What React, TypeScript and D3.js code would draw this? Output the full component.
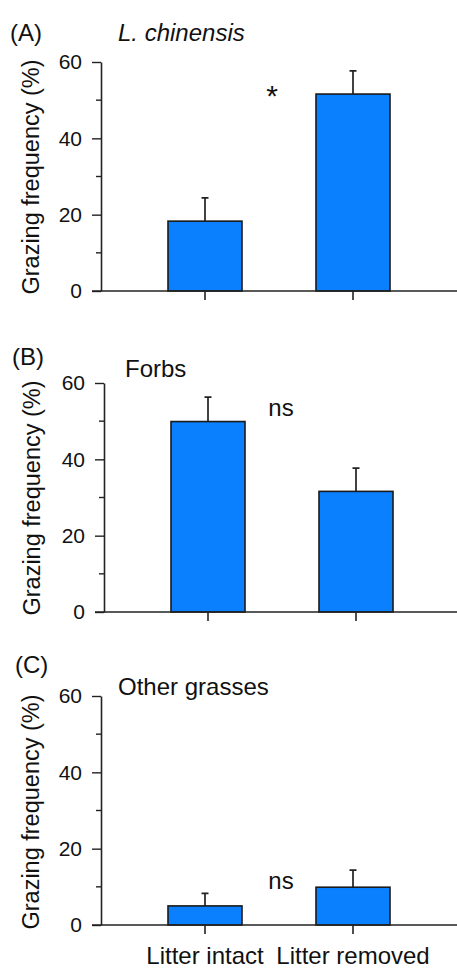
import { useEffect, useRef } from "react";
import * as d3 from "d3";

const categories = ["Litter intact", "Litter removed"];
const panelLetters = ["(A)", "(B)", "(C)"];
const panelTitles = ["L. chinensis", "Forbs", "Other grasses"];
const meansA = [18.3, 51.6];
const errorsA = [6.1, 6.1];
const meansB = [49.9, 31.6];
const errorsB = [6.4, 6.1];
const meansC = [5.0, 9.9];
const errorsC = [3.3, 4.5];
const significance = ["*", "ns", "ns"];
const majorTicks = [0, 20, 40, 60];
const minorTicks = [10, 30, 50];

const W = 457;
const H = 969;
const FONT = "'Liberation Sans', Arial, sans-serif";

// per-panel placement (pixels)
const layout = [
  { axisX: 101, top: 62, bottom: 291, dx: 0, letterX: 10, letterY: 41, titleX: 118, titleY: 41, italic: true, sigX: 272, sigY: 106, sigSize: 30, yTitleX: 39, yTitleY: 177 },
  { axisX: 104, top: 383, bottom: 612, dx: 3, letterX: 12, letterY: 365, titleX: 125, titleY: 377, italic: false, sigX: 281, sigY: 416, sigSize: 24, yTitleX: 40, yTitleY: 498 },
  { axisX: 101, top: 696, bottom: 925, dx: 0, letterX: 15, letterY: 673, titleX: 118, titleY: 695, italic: false, sigX: 281, sigY: 889, sigSize: 24, yTitleX: 39, yTitleY: 812 },
];

export default function App() {
  const ref = useRef<SVGSVGElement | null>(null);

  useEffect(() => {
    const svg = d3.select(ref.current);
    svg.selectAll("*").remove();

    const means = [meansA, meansB, meansC];
    const errors = [errorsA, errorsB, errorsC];

    layout.forEach((p, i) => {
      const g = svg.append("g");
      const y = d3.scaleLinear().domain([0, 60]).range([p.bottom, p.top]);
      const x = d3
        .scaleBand<string>()
        .domain(categories)
        .range([131 + p.dx, 427 + p.dx])
        .paddingInner(0.5)
        .paddingOuter(0.25);

      const data = categories.map((c, j) => ({ c, m: means[i][j], e: errors[i][j] }));

      // error bars (behind bars)
      g.selectAll(".err")
        .data(data)
        .enter()
        .append("path")
        .attr("d", d => {
          const cx = x(d.c)! + x.bandwidth() / 2;
          return `M${cx},${y(d.m)}V${y(d.m + d.e)}M${cx - 3.5},${y(d.m + d.e)}H${cx + 3.5}`;
        })
        .attr("stroke", "#222")
        .attr("stroke-width", 1.7)
        .attr("fill", "none");

      // bars
      g.selectAll(".bar")
        .data(data)
        .enter()
        .append("rect")
        .attr("x", d => x(d.c)!)
        .attr("y", d => y(d.m))
        .attr("width", x.bandwidth())
        .attr("height", d => y(0) - y(d.m))
        .attr("fill", "#0a80ff")
        .attr("stroke", "#1a1a1a")
        .attr("stroke-width", 1.6);

      // y axis
      const ya = g.append("g").attr("transform", `translate(${p.axisX},0)`);
      ya.call(
        d3.axisLeft(y).tickValues(majorTicks).tickSize(9).tickPadding(10).tickSizeOuter(0)
      );
      ya.select(".domain").attr("stroke", "#222").attr("stroke-width", 1.6);
      ya.selectAll(".tick line").attr("stroke", "#222").attr("stroke-width", 1.4);
      ya.selectAll(".tick text")
        .attr("font-size", 21)
        .attr("font-family", FONT)
        .attr("fill", "#111");
      ya.selectAll(".minor")
        .data(minorTicks)
        .enter()
        .append("line")
        .attr("x1", -5)
        .attr("x2", 0)
        .attr("y1", d => y(d))
        .attr("y2", d => y(d))
        .attr("stroke", "#222")
        .attr("stroke-width", 1.4);

      // x axis
      g.append("line")
        .attr("x1", p.axisX - 9)
        .attr("x2", W)
        .attr("y1", y(0))
        .attr("y2", y(0))
        .attr("stroke", "#222")
        .attr("stroke-width", 1.6);
      g.selectAll(".xt")
        .data(categories)
        .enter()
        .append("line")
        .attr("x1", d => x(d)! + x.bandwidth() / 2)
        .attr("x2", d => x(d)! + x.bandwidth() / 2)
        .attr("y1", y(0))
        .attr("y2", y(0) + 9)
        .attr("stroke", "#222")
        .attr("stroke-width", 1.6);

      if (i === layout.length - 1) {
        g.selectAll(".xl")
          .data(categories)
          .enter()
          .append("text")
          .attr("x", d => x(d)! + x.bandwidth() / 2)
          .attr("y", 964)
          .attr("text-anchor", "middle")
          .attr("font-size", 24)
          .attr("font-family", FONT)
          .attr("fill", "#111")
          .text(d => d);
      }

      // y title
      g.append("text")
        .attr("transform", `translate(${p.yTitleX},${p.yTitleY}) rotate(-90)`)
        .attr("text-anchor", "middle")
        .attr("font-size", 23.5)
        .attr("font-family", FONT)
        .attr("fill", "#111")
        .text("Grazing frequency (%)");

      // panel letter and title
      g.append("text")
        .attr("x", p.letterX)
        .attr("y", p.letterY)
        .attr("font-size", 24)
        .attr("font-family", FONT)
        .attr("fill", "#111")
        .text(panelLetters[i]);
      g.append("text")
        .attr("x", p.titleX)
        .attr("y", p.titleY)
        .attr("font-size", 24)
        .attr("font-style", p.italic ? "italic" : "normal")
        .attr("font-family", FONT)
        .attr("fill", "#111")
        .text(panelTitles[i]);

      // significance mark
      g.append("text")
        .attr("x", p.sigX)
        .attr("y", p.sigY)
        .attr("text-anchor", "middle")
        .attr("font-size", p.sigSize)
        .attr("font-family", FONT)
        .attr("fill", "#111")
        .text(significance[i]);
    });
  }, []);

  return (
    <svg
      ref={ref}
      width={W}
      height={H}
      style={{ position: "absolute", left: 0, top: 0, background: "#fff" }}
    />
  );
}
